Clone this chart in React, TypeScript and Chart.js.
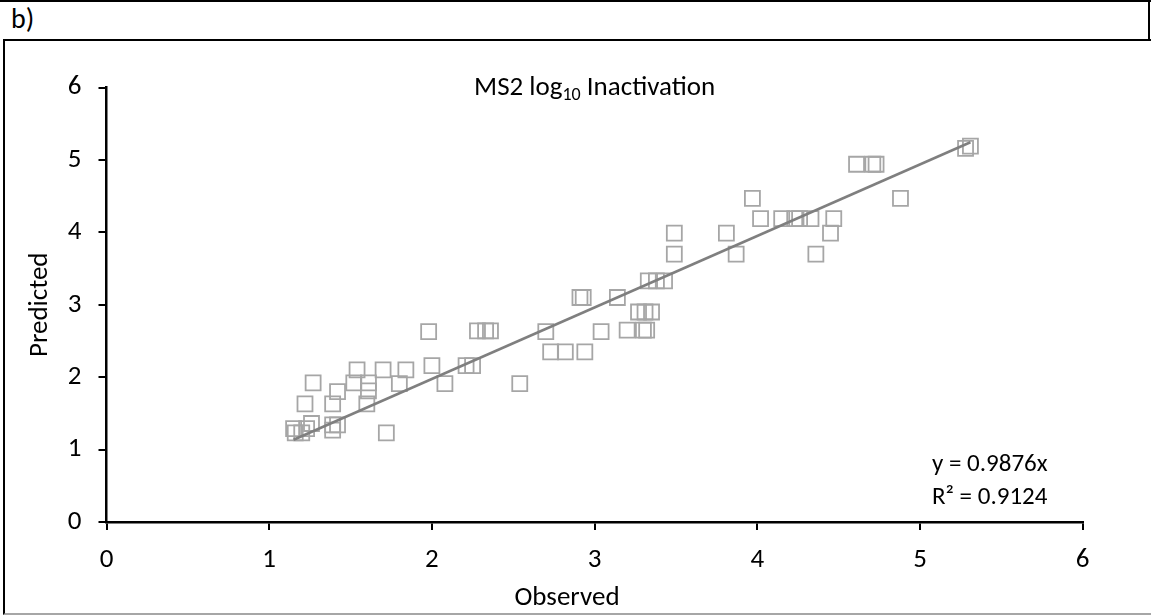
import React, { useEffect, useRef } from "react";
import { Chart, registerables } from "chart.js";

Chart.register(...registerables);

// ---- data ----
const observed = [
  1.15, 1.16, 1.2, 1.23, 1.22, 1.26, 1.27, 1.39, 1.39, 1.39, 1.42, 1.42, 1.52, 1.54, 1.6, 1.61, 1.61,
  1.7, 1.72, 1.8, 1.84, 1.98, 2.0, 2.08, 2.21, 2.25, 2.28, 2.33, 2.36, 2.54, 2.7, 2.73, 2.82, 2.91,
  2.93, 2.94, 3.04, 3.14, 3.2, 3.27, 3.31, 3.35, 3.3, 3.32, 3.33, 3.38, 3.43, 3.49, 3.49, 3.81, 3.87,
  3.97, 4.02, 4.15, 4.23, 4.26, 4.33, 4.36, 4.45, 4.47, 4.61, 4.71, 4.73, 4.88, 5.28, 5.31,
];
const predicted = [
  1.29, 1.23, 1.23, 1.29, 1.63, 1.36, 1.92, 1.34, 1.27, 1.63, 1.34, 1.8, 1.92, 2.1, 1.63, 1.81, 1.92,
  2.1, 1.23, 1.91, 2.1, 2.63, 2.16, 1.91, 2.16, 2.16, 2.64, 2.64, 2.64, 1.91, 2.63, 2.35, 2.35, 3.1,
  3.1, 2.35, 2.63, 3.1, 2.65, 2.9, 2.9, 2.9, 2.65, 2.65, 3.33, 3.33, 3.33, 3.99, 3.7, 3.99, 3.7,
  4.47, 4.19, 4.19, 4.19, 4.19, 4.19, 3.7, 3.99, 4.19, 4.94, 4.94, 4.94, 4.47, 5.16, 5.19,
];
const trendSlope = 0.9876;
const rSquared = 0.9124;
const xTicks = [0, 1, 2, 3, 4, 5, 6];
const yTicks = [0, 1, 2, 3, 4, 5, 6];
const titleMain = "MS2 log";
const titleSub = "10";
const titleRest = " Inactivation";
const xTitle = "Observed";
const yTitle = "Predicted";
const panelLabel = "b)";

const FONT = "Carlito, Calibri, Lato, 'Liberation Sans', sans-serif";
const FS = 27;

const annotationPlugin = {
  id: "annotationPlugin",
  afterDraw(chart: any) {
    const ctx = chart.ctx as CanvasRenderingContext2D;
    const area = chart.chartArea;
    ctx.save();
    ctx.fillStyle = "#000";
    ctx.textBaseline = "middle";
    ctx.textAlign = "left";
    const big = `${FS}px ${FONT}`;
    const small = `${Math.round(FS * 0.66)}px ${FONT}`;
    ctx.font = big;
    const w1 = ctx.measureText(titleMain).width;
    const w3 = ctx.measureText(titleRest).width;
    ctx.font = small;
    const w2 = ctx.measureText(titleSub).width;
    let x = (area.left + area.right) / 2 - (w1 + w2 + w3) / 2;
    const y = area.top + 1;
    ctx.font = big;
    ctx.fillText(titleMain, x, y);
    x += w1;
    ctx.font = small;
    ctx.fillText(titleSub, x, y + 7);
    x += w2;
    ctx.font = big;
    ctx.fillText(titleRest, x, y);

    // trendline equation
    ctx.font = `25px ${FONT}`;
    ctx.fillText(`y = ${trendSlope}x`, 927, 424);
    ctx.fillText(`R\u00B2 = ${rSquared}`, 927, 457);

    // x axis title
    ctx.font = big;
    ctx.textAlign = "center";
    ctx.fillText(xTitle, 562, 557);
    ctx.restore();
  },
};

export default function App() {
  const ref = useRef<HTMLCanvasElement | null>(null);

  useEffect(() => {
    if (!ref.current) return;
    const points = observed.map((x, i) => ({ x, y: predicted[i] }));
    const minX = Math.min(...observed);
    const maxX = Math.max(...observed);
    const trend = [
      { x: minX, y: trendSlope * minX },
      { x: maxX, y: trendSlope * maxX },
    ];
    const tickFont = { family: FONT, size: FS };
    const chart = new Chart(ref.current, {
      type: "scatter",
      data: {
        datasets: [
          {
            type: "line",
            data: trend,
            borderColor: "#7f7f7f",
            borderWidth: 2.5,
            pointRadius: 0,
            fill: false,
          } as any,
          {
            type: "scatter",
            data: points,
            pointStyle: "rect",
            pointRadius: 10.6,
            backgroundColor: "rgba(0,0,0,0)",
            borderColor: "#a6a6a6",
            borderWidth: 1.8,
          } as any,
        ],
      },
      options: {
        animation: false,
        responsive: false,
        devicePixelRatio: 1,
        layout: { padding: { left: 0, top: 46.5, right: 68.3, bottom: 0 } },
        plugins: { legend: { display: false }, tooltip: { enabled: false }, title: { display: false } },
        scales: {
          x: {
            type: "linear",
            min: 0,
            max: 6,
            afterBuildTicks: (s: any) => {
              s.ticks = xTicks.map((v) => ({ value: v }));
            },
            afterFit: (s: any) => {
              s.height = 91;
            },
            grid: { display: true, drawOnChartArea: false, drawTicks: true, tickLength: 8, color: "#000", lineWidth: 2 },
            border: { display: true, color: "#000", width: 2.5 },
            ticks: { color: "#000", font: tickFont, padding: 14, maxRotation: 0 },
            title: { display: false },
          },
          y: {
            type: "linear",
            min: 0,
            max: 6,
            afterBuildTicks: (s: any) => {
              s.ticks = yTicks.map((v) => ({ value: v }));
            },
            afterFit: (s: any) => {
              s.width = 101.5;
            },
            grid: { display: true, drawOnChartArea: false, drawTicks: true, tickLength: 8, color: "#000", lineWidth: 2 },
            border: { display: true, color: "#000", width: 2.5 },
            ticks: { color: "#000", font: tickFont, padding: 17 },
            title: { display: true, text: yTitle, color: "#000", font: tickFont, padding: { top: 19, bottom: 0 } },
          },
        },
      },
      plugins: [annotationPlugin],
    } as any);
    return () => chart.destroy();
  }, []);

  return (
    <div style={{ position: "absolute", left: 0, top: 0, width: 1151, height: 616, overflow: "hidden", background: "#fff" }}>
      <div style={{ position: "absolute", left: 0, top: 0, width: 1151, height: 2, background: "#000" }} />
      <div style={{ position: "absolute", left: 1148, top: 0, width: 2, height: 41, background: "#000" }} />
      <div
        style={{
          position: "absolute",
          left: 11,
          top: 2,
          fontFamily: FONT,
          fontSize: 28,
          lineHeight: "34px",
          color: "#000",
        }}
      >
        {panelLabel}
      </div>
      <div
        style={{
          position: "absolute",
          left: 3,
          top: 39,
          width: 1200,
          height: 572,
          borderLeft: "2px solid #000",
          borderTop: "2px solid #000",
          borderBottom: "2px solid #a6a6a6",
        }}
      />
      <canvas ref={ref} width={1146} height={572} style={{ position: "absolute", left: 5, top: 41, width: 1146, height: 572 }} />
    </div>
  );
}
